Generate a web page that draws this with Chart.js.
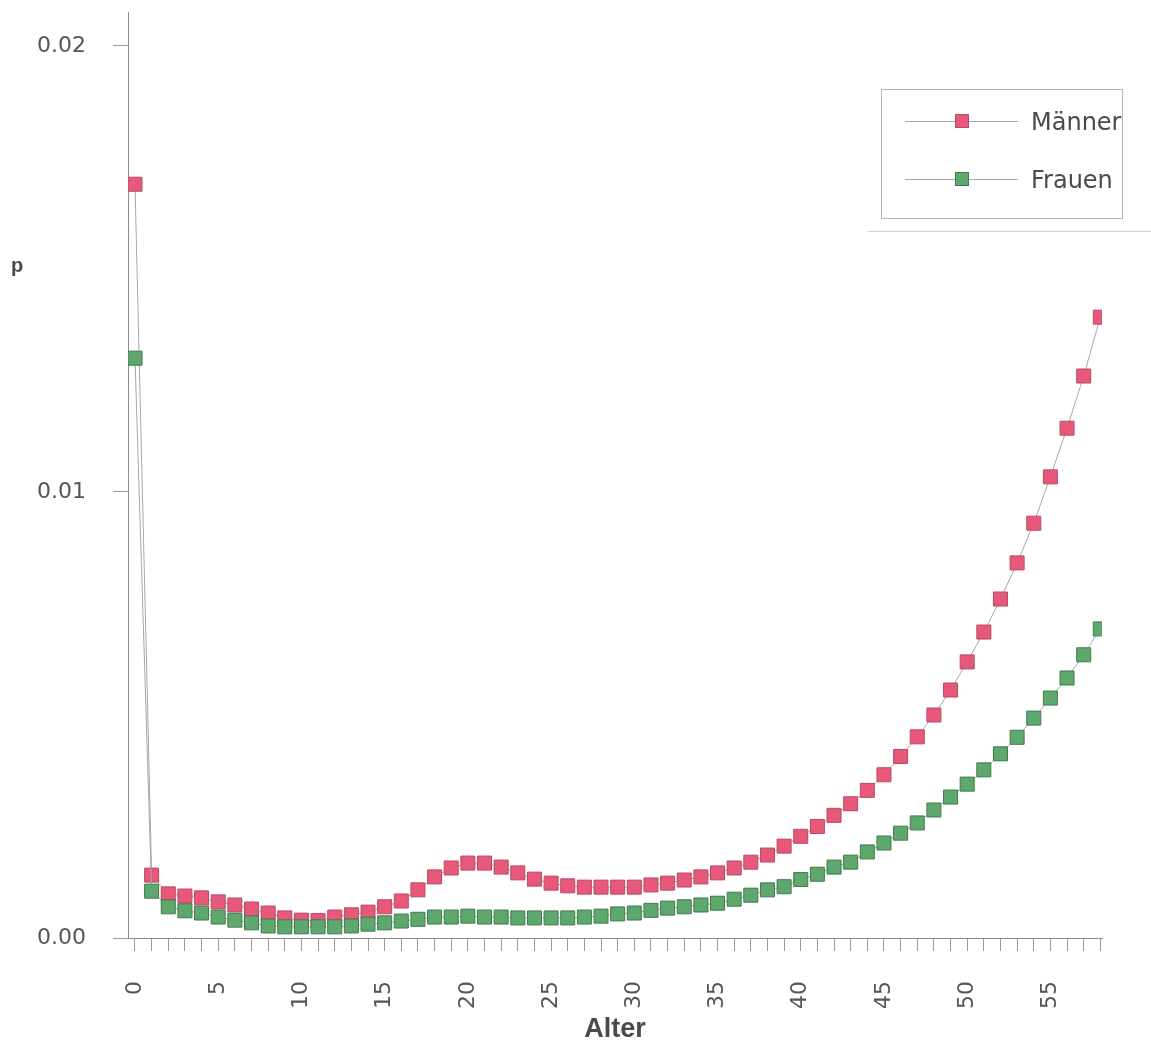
<!DOCTYPE html>
<html>
<head>
<meta charset="utf-8">
<script src="https://cdn.jsdelivr.net/npm/chart.js@4/dist/chart.umd.min.js"></script>
<style>
  html, body { margin: 0; padding: 0; background: #ffffff; }
  #wrap { width: 1151px; height: 1048px; position: relative; }
</style>
</head>
<body>
<div id="wrap"><canvas id="c" width="1151" height="1048"></canvas></div>
<script>
// Alter (Jahre)
const ages = [
  0, 1, 2, 3, 4, 5, 6, 7, 8, 9,
  10, 11, 12, 13, 14, 15, 16, 17, 18, 19,
  20, 21, 22, 23, 24, 25, 26, 27, 28, 29,
  30, 31, 32, 33, 34, 35, 36, 37, 38, 39,
  40, 41, 42, 43, 44, 45, 46, 47, 48, 49,
  50, 51, 52, 53, 54, 55, 56, 57, 58
];

// Sterbewahrscheinlichkeit p, Männer
const maenner = [
  0.01690, 0.00141, 0.00099, 0.00094, 0.00090, 0.00081, 0.00074, 0.00065, 0.00056, 0.00045,
  0.00040, 0.00039, 0.00047, 0.00052, 0.00058, 0.00070, 0.00083, 0.00108, 0.00137, 0.00157,
  0.00168, 0.00168, 0.00159, 0.00146, 0.00132, 0.00123, 0.00117, 0.00114, 0.00114, 0.00114,
  0.00114, 0.00119, 0.00123, 0.00130, 0.00137, 0.00146, 0.00157, 0.00170, 0.00186, 0.00206,
  0.00228, 0.00250, 0.00275, 0.00301, 0.00331, 0.00366, 0.00407, 0.00451, 0.00500, 0.00556,
  0.00619, 0.00686, 0.00760, 0.00841, 0.00930, 0.01034, 0.01143, 0.01260, 0.01392
];

// Sterbewahrscheinlichkeit p, Frauen
const frauen = [
  0.01300, 0.00105, 0.00070, 0.00061, 0.00056, 0.00047, 0.00040, 0.00034, 0.00027, 0.00025,
  0.00025, 0.00025, 0.00025, 0.00027, 0.00031, 0.00034, 0.00038, 0.00042, 0.00047, 0.00047,
  0.00049, 0.00047, 0.00047, 0.00045, 0.00045, 0.00045, 0.00045, 0.00047, 0.00049, 0.00054,
  0.00056, 0.00062, 0.00067, 0.00070, 0.00074, 0.00078, 0.00087, 0.00096, 0.00108, 0.00115,
  0.00131, 0.00143, 0.00159, 0.00170, 0.00193, 0.00213, 0.00235, 0.00258, 0.00287, 0.00316,
  0.00345, 0.00377, 0.00413, 0.00450, 0.00493, 0.00538, 0.00583, 0.00635, 0.00693
];

// beschriftete Alterswerte und y-Ticks
const xTickLabels = [0, 5, 10, 15, 20, 25, 30, 35, 40, 45, 50, 55];
const yTickValues = [0, 0.01, 0.02];
const seriesNames = ['Männer', 'Frauen'];

const RED_FILL = '#e8587a', RED_EDGE = '#b84a62';
const GREEN_FILL = '#5ea86e', GREEN_EDGE = '#3f7a4c';
const LINE_GREY = '#a7a7a7';
const TEXT = '#4a4a4a';

function toPoints(vals) {
  return ages.map((a, i) => ({ x: a, y: vals[i] }));
}

function drawMarker(ctx, x, y, fill, edge) {
  ctx.fillStyle = fill;
  ctx.strokeStyle = edge;
  ctx.lineWidth = 1;
  ctx.fillRect(x - 7, y - 7, 14, 14);
  ctx.strokeRect(x - 6.5, y - 6.5, 13, 13);
}

// Legende, Achsenbezeichnung "p" und Randlinie
const extras = {
  id: 'extras',
  afterDraw(chart) {
    const ctx = chart.ctx;
    ctx.save();

    // y-Achsentitel
    ctx.fillStyle = TEXT;
    ctx.font = 'bold 20px "Liberation Sans", Arial, sans-serif';
    ctx.textAlign = 'center';
    ctx.textBaseline = 'middle';
    ctx.fillText('p', 17, 266);

    // Legendenrahmen
    ctx.strokeStyle = '#b4b4b4';
    ctx.lineWidth = 1;
    ctx.strokeRect(881.5, 89.5, 241, 129);

    // Linie unterhalb der Legende
    ctx.strokeStyle = '#c9d1dc';
    ctx.beginPath();
    ctx.moveTo(868, 231.5);
    ctx.lineTo(1151, 231.5);
    ctx.stroke();

    const items = [
      { name: seriesNames[0], y: 121, fill: RED_FILL, edge: RED_EDGE },
      { name: seriesNames[1], y: 179, fill: GREEN_FILL, edge: GREEN_EDGE }
    ];
    items.forEach(it => {
      ctx.strokeStyle = LINE_GREY;
      ctx.lineWidth = 1;
      ctx.beginPath();
      ctx.moveTo(905, it.y + 0.5);
      ctx.lineTo(1018, it.y + 0.5);
      ctx.stroke();
      drawMarker(ctx, 962, it.y, it.fill, it.edge);
      ctx.fillStyle = TEXT;
      ctx.font = '24px "DejaVu Sans", sans-serif';
      ctx.textAlign = 'left';
      ctx.textBaseline = 'middle';
      ctx.fillText(it.name, 1031, it.y + 3);
    });

    ctx.restore();
  }
};

new Chart(document.getElementById('c'), {
  type: 'line',
  data: {
    datasets: [
      {
        label: seriesNames[0],
        data: toPoints(maenner),
        borderColor: LINE_GREY,
        borderWidth: 1,
        pointStyle: 'rect',
        pointRadius: 9.9,
        pointBackgroundColor: RED_FILL,
        pointBorderColor: RED_EDGE,
        pointBorderWidth: 1,
        tension: 0,
        order: 2
      },
      {
        label: seriesNames[1],
        data: toPoints(frauen),
        borderColor: LINE_GREY,
        borderWidth: 1,
        pointStyle: 'rect',
        pointRadius: 9.9,
        pointBackgroundColor: GREEN_FILL,
        pointBorderColor: GREEN_EDGE,
        pointBorderWidth: 1,
        tension: 0,
        order: 1
      }
    ]
  },
  options: {
    responsive: false,
    animation: false,
    devicePixelRatio: 1,
    layout: { padding: { left: 0, top: 12, right: 49, bottom: 0 } },
    plugins: {
      legend: { display: false },
      tooltip: { enabled: false }
    },
    scales: {
      x: {
        type: 'linear',
        min: -0.42,
        max: 58.1,
        afterBuildTicks(scale) {
          scale.ticks = ages.map(v => ({ value: v }));
        },
        afterFit(scale) {
          scale.height = 110;
          scale.paddingLeft = 0;
          scale.paddingRight = 0;
        },
        grid: {
          drawOnChartArea: false,
          drawTicks: true,
          tickLength: 13,
          color: '#9a9a9a'
        },
        border: { display: true, color: '#8c8c8c', width: 1 },
        ticks: {
          autoSkip: false,
          minRotation: 90,
          maxRotation: 90,
          padding: 30,
          color: '#555555',
          font: { family: '"DejaVu Sans", sans-serif', size: 22 },
          callback: v => (xTickLabels.includes(v) ? String(v) : '')
        },
        title: {
          display: true,
          text: 'Alter',
          color: TEXT,
          font: { family: '"Liberation Sans", Arial, sans-serif', size: 27, weight: 'bold' },
          padding: { top: 0, bottom: 2 }
        }
      },
      y: {
        type: 'linear',
        min: 0,
        max: 0.020762,
        afterBuildTicks(scale) {
          scale.ticks = yTickValues.map(v => ({ value: v }));
        },
        afterFit(scale) {
          scale.width = 128;
          scale.paddingTop = 0;
          scale.paddingBottom = 0;
        },
        grid: {
          drawOnChartArea: false,
          drawTicks: true,
          tickLength: 15,
          color: '#9a9a9a'
        },
        border: { display: true, color: '#8c8c8c', width: 1 },
        ticks: {
          padding: 27,
          color: '#555555',
          font: { family: '"DejaVu Sans", sans-serif', size: 22 },
          callback: v => Number(v).toFixed(2)
        }
      }
    }
  },
  plugins: [extras]
});
</script>
</body>
</html>
